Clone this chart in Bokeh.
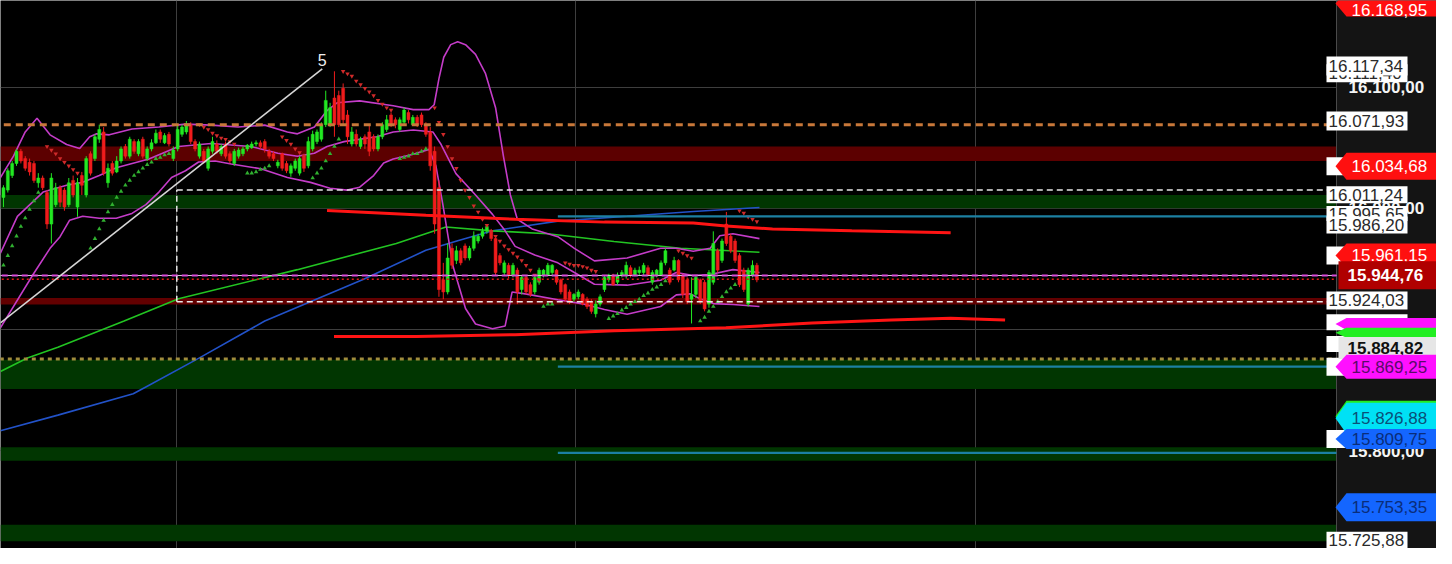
from bokeh.plotting import figure
from bokeh.models import (Range1d, FixedTicker, Label, PolyAnnotation, BoxAnnotation,
                          Span, ColumnDataSource)
from bokeh.embed import file_html
from bokeh.resources import INLINE

# ---------------- data ----------------
bar_open = [16009, 16015, 16027, 16037, 16047, 16041, 16038, 16037, 16021, 16025,
            16013, 15987, 16003, 16017, 16015, 16003, 16023, 16001, 16027, 16011,
            16045, 16041, 16057, 16063, 16021, 16037, 16030, 16039, 16051, 16043,
            16055, 16045, 16057, 16041, 16049, 16054, 16063, 16054, 16061, 16041,
            16049, 16061, 16063, 16069, 16055, 16043, 16047, 16033, 16047, 16053,
            16045, 16053, 16045, 16037, 16043, 16045, 16049, 16050, 16053, 16054,
            16055, 16047, 16045, 16035, 16045, 16037, 16029, 16033, 16029, 16043,
            16035, 16049, 16055, 16057, 16069, 16069, 16091, 16093, 16099, 16077,
            16053, 16061, 16051, 16059, 16063, 16059, 16049, 16059, 16065, 16077,
            16073, 16065, 16071, 16079, 16069, 16075, 16077, 16069, 16063, 16047,
            16017, 15941, 15931, 15967, 15957, 15965, 15969, 15959, 15967, 15973,
            15977, 15981, 15981, 15975, 15961, 15947, 15953, 15945, 15949, 15933,
            15943, 15937, 15931, 15939, 15945, 15945, 15947, 15949, 15941, 15937,
            15931, 15925, 15927, 15929, 15925, 15923, 15913, 15921, 15933, 15941,
            15945, 15939, 15945, 15945, 15951, 15945, 15947, 15947, 15951, 15939,
            15945, 15945, 15955, 15949, 15949, 15957, 15945, 15941, 15925, 15929,
            15941, 15939, 15921, 15939, 15965, 15957, 15987, 15977, 15973, 15961,
            15949, 15921, 15945, 15953]
bar_close = [16017, 16031, 16037, 16047, 16039, 16033, 16030, 16023, 16025, 16017,
             15987, 16025, 16017, 16005, 16001, 16021, 16011, 16021, 16019, 16041,
             16029, 16059, 16065, 16029, 16033, 16029, 16039, 16049, 16043, 16057,
             16047, 16055, 16043, 16049, 16054, 16062, 16057, 16060, 16053, 16048,
             16065, 16067, 16069, 16055, 16049, 16053, 16039, 16049, 16055, 16047,
             16051, 16043, 16039, 16047, 16048, 16049, 16052, 16053, 16054, 16051,
             16049, 16043, 16041, 16038, 16033, 16031, 16035, 16039, 16041, 16033,
             16055, 16061, 16063, 16069, 16089, 16083, 16069, 16069, 16073, 16059,
             16063, 16053, 16057, 16053, 16047, 16049, 16059, 16069, 16073, 16069,
             16069, 16073, 16081, 16073, 16075, 16069, 16069, 16061, 16035, 15987,
             15933, 15931, 15959, 15953, 15965, 15955, 15959, 15967, 15977, 15977,
             15981, 15985, 15975, 15947, 15955, 15955, 15945, 15953, 15931, 15943,
             15931, 15929, 15943, 15949, 15949, 15953, 15953, 15939, 15931, 15925,
             15923, 15929, 15931, 15921, 15919, 15915, 15921, 15927, 15943, 15945,
             15937, 15945, 15947, 15953, 15945, 15949, 15949, 15953, 15945, 15947,
             15949, 15955, 15965, 15939, 15957, 15941, 15929, 15923, 15929, 15943,
             15923, 15917, 15947, 15971, 15949, 15973, 15971, 15965, 15957, 15937,
             15933, 15949, 15953, 15941]
bar_high = [16019, 16033, 16039, 16049, 16049, 16043, 16041, 16039, 16029, 16027,
            16015, 16029, 16021, 16019, 16017, 16025, 16027, 16025, 16030, 16043,
            16047, 16061, 16069, 16067, 16037, 16039, 16043, 16051, 16053, 16059,
            16057, 16057, 16059, 16051, 16057, 16065, 16065, 16062, 16063, 16051,
            16069, 16069, 16072, 16071, 16057, 16055, 16049, 16051, 16059, 16056,
            16053, 16055, 16047, 16049, 16050, 16051, 16053, 16055, 16056, 16056,
            16057, 16049, 16047, 16040, 16046, 16039, 16037, 16041, 16043, 16045,
            16059, 16064, 16065, 16071, 16097, 16087, 16113, 16097, 16103, 16081,
            16067, 16065, 16059, 16061, 16069, 16061, 16061, 16071, 16077, 16079,
            16075, 16075, 16083, 16081, 16077, 16077, 16079, 16071, 16067, 16051,
            16023, 15955, 15971, 15971, 15969, 15967, 15971, 15969, 15981, 15979,
            15984, 15987, 15983, 15977, 15963, 15957, 15955, 15955, 15951, 15945,
            15945, 15939, 15945, 15951, 15950, 15955, 15954, 15950, 15942, 15938,
            15933, 15930, 15933, 15930, 15927, 15925, 15924, 15929, 15945, 15946,
            15946, 15947, 15949, 15956, 15953, 15951, 15952, 15955, 15953, 15949,
            15950, 15957, 15967, 15951, 15960, 15958, 15946, 15943, 15943, 15945,
            15942, 15941, 15949, 15981, 15967, 15975, 15997, 15979, 15975, 15963,
            15951, 15951, 15957, 15955]
bar_low = [16001, 16013, 16025, 16035, 16037, 16031, 16027, 16021, 16017, 16015,
           15983, 15971, 16001, 16001, 15998, 16001, 16009, 15993, 16011, 16009,
           16027, 16039, 16054, 16027, 16017, 16027, 16029, 16037, 16041, 16041,
           16045, 16043, 16041, 16039, 16047, 16053, 16054, 16053, 16051, 16039,
           16047, 16059, 16061, 16053, 16047, 16041, 16037, 16031, 16045, 16045,
           16043, 16041, 16037, 16035, 16041, 16043, 16047, 16049, 16051, 16049,
           16046, 16041, 16039, 16033, 16031, 16029, 16026, 16031, 16027, 16030,
           16033, 16047, 16053, 16055, 16067, 16067, 16059, 16067, 16069, 16053,
           16051, 16051, 16049, 16049, 16043, 16047, 16047, 16057, 16063, 16067,
           16066, 16063, 16069, 16070, 16068, 16067, 16067, 16059, 16031, 15979,
           15927, 15925, 15929, 15950, 15954, 15953, 15957, 15957, 15965, 15971,
           15975, 15979, 15973, 15945, 15953, 15945, 15942, 15943, 15921, 15929,
           15929, 15927, 15929, 15937, 15943, 15944, 15945, 15937, 15929, 15923,
           15921, 15923, 15925, 15920, 15917, 15913, 15910, 15919, 15931, 15939,
           15936, 15937, 15943, 15942, 15943, 15944, 15945, 15945, 15944, 15937,
           15943, 15944, 15953, 15937, 15948, 15939, 15926, 15921, 15905, 15926,
           15921, 15915, 15918, 15937, 15947, 15955, 15969, 15963, 15955, 15935,
           15931, 15919, 15943, 15939]

# parabolic SAR segments: (first bar index, values)
sar_up_segments = [
    (0, [15953, 15961, 15969, 15977, 15985, 15992, 15999, 16006, 16013]),
    (20, [15967, 15975, 15983, 15990, 15997, 16003, 16009, 16014, 16019, 16023,
          16027, 16030, 16033, 16036, 16038, 16041, 16042, 16044, 16045]),
    (56, [16029, 16029, 16030, 16032, 16033, 16035]),
    (71, [16025, 16029, 16033, 16039, 16045, 16051, 16057]),
    (91, [16041, 16042, 16043, 16045, 16045, 16047, 16049]),
    (124, [15919, 15921, 15921]),
    (139, [15909, 15911, 15913, 15916, 15918, 15921, 15923, 15925, 15928, 15930,
           15933, 15935, 15937, 15940]),
    (160, [15907, 15910, 15915, 15919, 15923, 15927, 15931, 15934, 15937]),
]
sar_down_segments = [
    (10, [16051, 16048, 16045, 16041, 16038, 16035, 16032, 16029]),
    (45, [16069, 16067, 16065, 16062, 16060, 16058, 16057, 16055, 16053]),
    (64, [16059, 16056, 16053, 16049, 16046, 16043]),
    (78, [16113, 16111, 16109, 16105, 16102, 16099, 16096, 16093, 16089, 16086,
          16083, 16081]),
    (99, [16083, 16071, 16061, 16051, 16041, 16033, 16023, 16015, 16009, 16002,
          15997, 15991, 15986, 15981, 15977, 15973, 15969, 15966, 15963, 15960,
          15957, 15953, 15949, 15945, 15941]),
    (129, [15955, 15954, 15953, 15953, 15952, 15951, 15949, 15948]),
    (155, [15965, 15963, 15961, 15959]),
    (169, [15998, 15996, 15993, 15991, 15989]),
]

# Bollinger bands (bar index, price)
bb_upper_x = [-0.7, 2.3, 5, 7.7, 10.7, 14.5, 17.5, 19.8, 21.4, 24.3, 29.5, 35.7, 41.8,
              47.7, 53.9, 60, 65.2, 67.5, 71.4, 74.3, 76.6, 81.8, 89.5, 94.1, 97.7,
              98.9, 100, 101.1, 102.7, 104.3, 106.1, 108.4, 110.7, 113, 114.8, 116.4,
              118, 121.4, 127.3, 131.1, 135.7, 143.2, 150.9, 154.5, 158.4, 162.3,
              164.5, 167.5, 173.6]
bb_upper_y = [16025.4, 16043, 16063, 16074.2, 16060.6, 16052.6, 16049.4, 16059, 16061.4,
              16060.6, 16065.4, 16067, 16069.4, 16068.6, 16067, 16068.6, 16063, 16061.4,
              16067, 16080.6, 16087, 16088.6, 16084.6, 16081.4, 16081.4, 16085.4, 16107,
              16124.6, 16135, 16137.4, 16135, 16127, 16111, 16083, 16043, 16011, 15991,
              15983, 15976.6, 15967, 15956.6, 15959, 15967, 15967, 15964.6, 15967,
              15977.4, 15979, 15975]
bb_mid_x = [-0.7, 3.2, 9.1, 14.5, 18.2, 22, 25.9, 33.4, 40.2, 47.7, 56.8, 63, 67.5,
            71.4, 74.3, 78.2, 85.7, 89.5, 94.1, 98.6, 100.5, 103.9, 108.4, 112.3,
            115.2, 117.5, 122, 127.3, 131.1, 135.7, 143.2, 150.9, 154.5, 158.4,
            162.3, 167.5, 173.6]
bb_mid_y = [15963, 15993.4, 16013.4, 16019, 16021.4, 16027, 16033.4, 16040.6, 16051,
            16053.4, 16051, 16045.4, 16043, 16045.4, 16051, 16055, 16059, 16063,
            16064.6, 16063, 16052.6, 16028.6, 16011, 15995, 15981.4, 15968.6, 15961.4,
            15955, 15947, 15937.4, 15936.6, 15940.6, 15947, 15944.6, 15945.4, 15949.4,
            15947]
bb_lower_x = [-0.7, 6.8, 10.7, 13, 15.2, 18.2, 22, 25.9, 29.5, 32.7, 35.7, 38.6, 41.8,
              44.8, 48.6, 52.3, 59.1, 65.2, 70.5, 75, 78.9, 81.8, 85, 87.3, 89.5, 94.1,
              97.7, 99.3, 100.9, 103.2, 106.1, 108.4, 112.3, 115.2, 116.8, 119.8, 127.3,
              132.7, 138, 143.2, 150.9, 154.5, 157.7, 160, 163, 167.5, 173.6]
bb_lower_y = [15901.4, 15945.4, 15967, 15976.6, 15990.2, 15993.4, 15991.8, 15991.8,
              15995.8, 16003, 16013.4, 16025.4, 16031, 16038.2, 16039, 16036.6, 16032.6,
              16025.4, 16021.4, 16016.6, 16015, 16017.4, 16027, 16037.4, 16040.6,
              16044.6, 16048.6, 16035, 16003, 15952.6, 15917.4, 15904.6, 15900.6, 15903,
              15931, 15929.4, 15924.6, 15921.4, 15916.6, 15912.6, 15919, 15928.6,
              15929.4, 15925.4, 15921.4, 15920.6, 15919]

# moving averages (bar index, price)
ma_green_x = [-0.7, 5.5, 12.5, 27.7, 40.2, 67.5, 90.2, 101.6, 112.3, 125, 140.2, 155.5, 173.6]
ma_green_y = [15865.4, 15876.6, 15885.4, 15907, 15925.4, 15949.4, 15971, 15984.6,
              15981.4, 15979, 15972.6, 15967, 15963.8]
ma_blue_x = [-0.7, 12.5, 29.8, 32.7, 45, 60, 82.7, 97, 104.5, 112.3, 119.8, 127.3,
             143.2, 158.4, 173.6]
ma_blue_y = [15816.6, 15829.4, 15847, 15852.6, 15876.6, 15907, 15941.4, 15965.4,
             15973.4, 15981.4, 15985.4, 15989.4, 15993.4, 15997.4, 16000.6]

# hand-drawn red curves
red_upper_x = [74.3, 97, 117.5, 138, 158.4, 165.9, 176.6, 194.8, 217.5]
red_upper_y = [15998.2, 15994.2, 15991, 15988.6, 15987.8, 15985.4, 15983, 15981.4, 15979.8]
red_lower_x = [75.9, 94.8, 117.5, 140.2, 165.9, 185.7, 203.9, 217.5, 230]
red_lower_y = [15894.2, 15894.2, 15895.8, 15899, 15901.4, 15905.4, 15907.8, 15909.4, 15907.8]

# white trend line with its wave label
wave_x = [-0.7, 73.2]
wave_y = [15905.4, 16115]
wave_label = "5"

# zones (bottom, top, colour)
zone_bottom = [16039, 16000, 15920.6, 15851, 15791.8, 15725.4]
zone_top = [16051, 16011, 15926, 15875, 15803, 15739]
zone_color = ["#5c0000", "#013601", "#620000", "#013601", "#013601", "#013601"]

# horizontal levels
orange_level = 16069.0
olive_level = 15875.8
pink_level = 15944.6
red_dot_level = 15941.4
box_left_index = 39.8
box_top = 16015.0
box_bottom = 15923.0
teal_start_index = 127.3
teal_levels = [15993.4, 15869.4, 15798.2]

# grid / price scale
price_ticks = [15800, 15900, 16000, 16100]
price_tick_labels = ["15.800,00", "15.900,00", "16.000,00", "16.100,00"]
session_ticks = [39.8, 131.4, 223.2]

# price tags on the right scale (drawn in this order; "" = label hidden behind others)
tag_text = ["", "", "", "", "", "",
            "16.168,95", "16.111,40", "16.117,34", "16.071,93", "16.034,68",
            "16.011,24", "15.995,65", "15.986,20", "15.961,15", "15.944,76",
            "15.924,03", "", "", "15.884,82", "15.869,25", "", "15.826,88",
            "15.809,75", "15.753,35", "15.725,88"]
tag_value = [16034.68, 15961.15, 15906.0, 15888.0, 15869.25, 15809.75,
             16168.95, 16111.40, 16117.34, 16071.93, 16034.68, 16011.24, 15995.65,
             15986.20, 15961.15, 15944.76, 15924.03, 15904.6, 15897.4, 15884.82,
             15869.25, 15828.5, 15826.88, 15809.75, 15753.35, 15725.88]
tag_kind = ["box", "box", "box", "box", "box", "box",
            "arrow", "box", "box", "box", "arrow", "box", "box", "box", "arrow",
            "flat", "box", "arrow", "arrow", "flat", "arrow", "arrow", "arrow",
            "arrow", "arrow", "box"]
tag_fill = ["#ffffff", "#ffffff", "#ffffff", "#ffffff", "#ffffff", "#ffffff",
            "#ff1010", "#ffffff", "#ffffff", "#ffffff", "#ff1010", "#ffffff",
            "#ffffff", "#ffffff", "#ff1010", "#b00000", "#ffffff", "#ff10ff",
            "#22ee22", "#e6e6e6", "#ff10ff", "#22ee22", "#00e1f5", "#1466ff",
            "#1466ff", "#ffffff"]
tag_ink = ["#2a2a2a"] * 6 + [
           "#ffffff", "#2a2a2a", "#2a2a2a", "#2a2a2a", "#ffffff", "#2a2a2a",
           "#2a2a2a", "#2a2a2a", "#ffffff", "#ffffff", "#2a2a2a", "#2a2a2a",
           "#2a2a2a", "#111111", "#5a0a6a", "#2a2a2a", "#0a4f78", "#0a2d7a",
           "#0a2d7a", "#2a2a2a"]
tag_height = [18, 18, 16, 16, 18, 18,
              26, 18, 19, 19, 27, 17, 15, 17, 24, 28, 18, 12, 10, 22, 24, 31, 31,
              20, 28, 18]
tag_bold = [False] * 15 + [True, False, False, False, True, False, False, False,
                           False, False, False]

# ---------------- figure ----------------
X0, X1 = -0.68, 306.1          # chart area (bars); X1 = edge of the price scale
Y0, Y1 = 15719.4, 16171.4
W, H = 1436, 548
SCALE_W = 100                  # width of the price scale panel, px
ux = (X1 - X0) / (W - SCALE_W)  # data units per pixel (x)
uy = (Y1 - Y0) / H              # data units per pixel (y)
XE = X0 + W * ux
FONT = "Liberation Sans"

p = figure(width=W, height=H, output_backend="svg", toolbar_location=None,
           x_range=Range1d(X0, XE), y_range=Range1d(Y0, Y1),
           x_axis_location=None, y_axis_location=None,
           background_fill_color="#000000", border_fill_color="#000000",
           min_border=0)
p.outline_line_color = None

p.ygrid.ticker = FixedTicker(ticks=price_ticks)
p.ygrid.grid_line_color = "#3e3e3e"
p.xgrid.ticker = FixedTicker(ticks=session_ticks)
p.xgrid.grid_line_color = "#3e3e3e"

# zones
for b, t, c in zip(zone_bottom, zone_top, zone_color):
    p.add_layout(BoxAnnotation(bottom=b, top=t, right=X1, fill_color=c, fill_alpha=1.0,
                               line_color=None, level="underlay"))
# price scale panel
p.add_layout(BoxAnnotation(left=X1, fill_color="#141414", fill_alpha=1.0,
                           line_color=None, level="underlay"))
p.add_layout(Span(location=X1, dimension="height", line_color="#4a4a4a",
                  line_width=1, level="underlay"))

XL = X0 - 2

# moving averages and bands
p.line(ma_blue_x, ma_blue_y, line_color="#2252c8", line_width=1.6)
p.line(ma_green_x, ma_green_y, line_color="#22c422", line_width=1.6)
for xs, ys in ((bb_upper_x, bb_upper_y), (bb_mid_x, bb_mid_y), (bb_lower_x, bb_lower_y)):
    p.line(xs, ys, line_color="#c43cc8", line_width=1.6)

# candles
idx = list(range(len(bar_open)))
up = [c >= o for o, c in zip(bar_open, bar_close)]
src = ColumnDataSource(dict(
    x=idx, h=bar_high, l=bar_low,
    top=[max(o, c) for o, c in zip(bar_open, bar_close)],
    bot=[min(o, c) for o, c in zip(bar_open, bar_close)],
    col=["#22e822" if u else "#f01c1c" for u in up]))
p.segment(x0="x", y0="l", x1="x", y1="h", color="col", line_width=1, source=src)
p.vbar(x="x", width=0.68, top="top", bottom="bot", fill_color="col",
       line_color="col", line_width=0.5, source=src)

# SAR
sx_u, sy_u = [], []
for start, vals in sar_up_segments:
    sx_u += list(range(start, start + len(vals)))
    sy_u += vals
sx_d, sy_d = [], []
for start, vals in sar_down_segments:
    sx_d += list(range(start, start + len(vals)))
    sy_d += vals
p.scatter(sx_u, sy_u, marker="triangle", size=4.5, fill_color="#30b030", line_color=None)
p.scatter(sx_d, sy_d, marker="inverted_triangle", size=4.5, fill_color="#d02a2a", line_color=None)

# horizontal levels
p.segment(x0=[XL], y0=[orange_level], x1=[X1], y1=[orange_level],
          line_color="#c8783a", line_width=3, line_dash="7 5")
p.segment(x0=[XL], y0=[olive_level], x1=[X1], y1=[olive_level],
          line_color="#a08c3c", line_width=3, line_dash="4 4")
p.segment(x0=[XL], y0=[pink_level], x1=[X1], y1=[pink_level],
          line_color="#d8c8d8", line_width=1)
p.segment(x0=[XL], y0=[pink_level], x1=[X1], y1=[pink_level],
          line_color="#d848d8", line_width=2, line_dash="6 4")
p.segment(x0=[XL], y0=[red_dot_level], x1=[X1], y1=[red_dot_level],
          line_color="#e01818", line_width=1.5, line_dash="2 3")
p.segment(x0=[teal_start_index] * 3, y0=teal_levels, x1=[X1] * 3, y1=teal_levels,
          line_color="#1c80a2", line_width=2.2)
p.segment(x0=[box_left_index, box_left_index, box_left_index],
          y0=[box_top, box_bottom, box_bottom],
          x1=[X1 - 3 * ux, X1 - 3 * ux, box_left_index], y1=[box_top, box_bottom, box_top],
          line_color="#e8e8e8", line_width=1.5, line_dash="6 4")

# red curves
p.line(red_upper_x, red_upper_y, line_color="#ff1414", line_width=3)
p.line(red_lower_x, red_lower_y, line_color="#ff1414", line_width=3)

# wave line
p.line(wave_x, wave_y, line_color="#d6d6d6", line_width=1.6)
p.add_layout(Label(x=wave_x[-1], y=wave_y[-1] + 3 * uy, text=wave_label,
                   text_color="#eeeeee", text_font=FONT,
                   text_font_size="16px", text_align="center", text_baseline="bottom"))

# price scale labels
for v, t in zip(price_ticks, price_tick_labels):
    p.add_layout(Label(x=X1 + 12 * ux, y=v, text=t, text_color="#f4f4f4",
                       text_font=FONT, text_font_size="17px",
                       text_font_style="bold", text_align="left",
                       text_baseline="middle"))

# price tags
for t, v, k, f, ink, hpx, bold in zip(tag_text, tag_value, tag_kind, tag_fill,
                                      tag_ink, tag_height, tag_bold):
    hh = hpx / 2 * uy
    if k == "box":
        xl, xr = X1 - 10 * ux, X1 + 71 * ux
        xs = [xl, xr, xr, xl]
        ys = [v + hh, v + hh, v - hh, v - hh]
        tx = xl + 2 * ux
    elif k == "flat":
        xl, xr = X1 + 2 * ux, XE + 5 * ux
        xs = [xl, xr, xr, xl]
        ys = [v + hh, v + hh, v - hh, v - hh]
        tx = X1 + 11 * ux
    else:
        tip, xl, xr = X1 - 1 * ux, X1 + 10 * ux, XE + 5 * ux
        xs = [tip, xl, xr, xr, xl]
        ys = [v, v + hh, v + hh, v - hh, v - hh]
        tx = X1 + 15 * ux
    p.add_layout(PolyAnnotation(xs=xs, ys=ys, fill_color=f, fill_alpha=1.0,
                                line_color=None))
    if t:
        ty = min(v, Y1 - 9 * uy)
        ty = max(ty, Y0 + 9 * uy)
        p.add_layout(Label(x=tx, y=ty, text=t, text_color=ink,
                           text_font=FONT, text_font_size="17px",
                           text_font_style="bold" if bold else "normal",
                           text_align="left", text_baseline="middle"))

open("out.html", "w").write(file_html(p, INLINE))
